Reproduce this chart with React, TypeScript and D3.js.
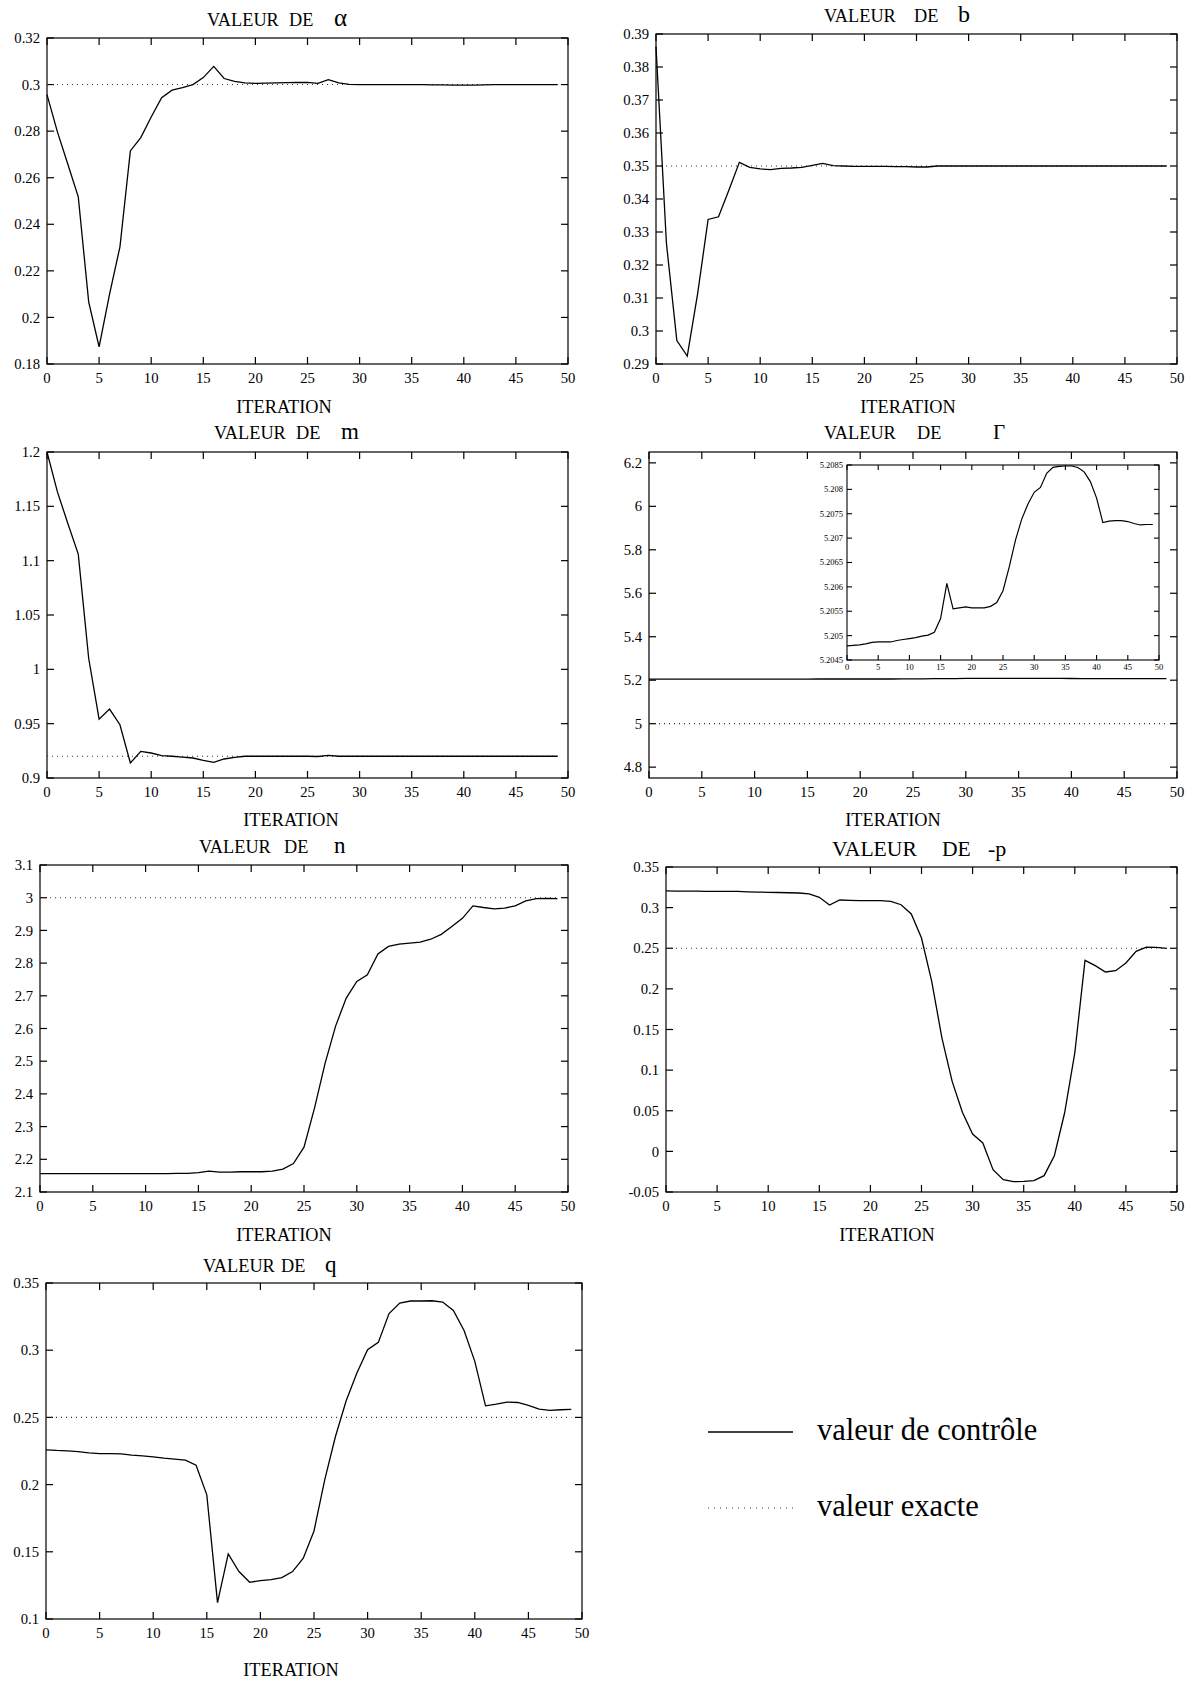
import React, { useEffect, useRef } from 'react';
import * as d3 from 'd3';

// iteration ticks shared by every panel
const iterationTicks = [0, 5, 10, 15, 20, 25, 30, 35, 40, 45, 50];

// control values, one per iteration 0..49
const alphaValues = [
  0.2957, 0.2797, 0.2658, 0.2518, 0.2067, 0.1874, 0.2099, 0.2303, 0.2715, 0.2772,
  0.2861, 0.2944, 0.2976, 0.2987, 0.3000, 0.3030, 0.3078, 0.3026, 0.3014, 0.3007,
  0.3005, 0.3006, 0.3007, 0.3008, 0.3009, 0.3009, 0.3005, 0.3021, 0.3007, 0.3001,
  0.3000, 0.3000, 0.3000, 0.3000, 0.3000, 0.3000, 0.3000, 0.2999, 0.2999, 0.2998,
  0.2998, 0.2998, 0.2999, 0.3000, 0.3000, 0.3000, 0.3000, 0.3000, 0.3000, 0.3000,
];
const bValues = [
  0.3862, 0.3266, 0.2971, 0.2924, 0.3114, 0.3338, 0.3346, 0.3427, 0.3511, 0.3496,
  0.3491, 0.3489, 0.3493, 0.3494, 0.3496, 0.3502, 0.3508, 0.3501, 0.3500, 0.3499,
  0.3499, 0.3499, 0.3499, 0.3498, 0.3498, 0.3497, 0.3497, 0.3500, 0.3500, 0.3500,
  0.3500, 0.3500, 0.3500, 0.3500, 0.3500, 0.3500, 0.3500, 0.3500, 0.3500, 0.3500,
  0.3500, 0.3500, 0.3500, 0.3500, 0.3500, 0.3500, 0.3500, 0.3500, 0.3500, 0.3500,
];
const mValues = [
  1.2000, 1.1633, 1.1342, 1.1060, 1.0102, 0.9542, 0.9634, 0.9490, 0.9138, 0.9245,
  0.9230, 0.9205, 0.9200, 0.9193, 0.9184, 0.9162, 0.9144, 0.9175, 0.9190, 0.9200,
  0.9200, 0.9200, 0.9200, 0.9200, 0.9200, 0.9200, 0.9198, 0.9208, 0.9200, 0.9200,
  0.9200, 0.9200, 0.9200, 0.9200, 0.9200, 0.9200, 0.9200, 0.9200, 0.9200, 0.9200,
  0.9200, 0.9200, 0.9200, 0.9200, 0.9200, 0.9200, 0.9200, 0.9200, 0.9200, 0.9200,
];
const gammaValues = [
  5.20479, 5.20480, 5.20481, 5.20483, 5.20486, 5.20487, 5.20487, 5.20487, 5.20490, 5.20492,
  5.20494, 5.20496, 5.20499, 5.20501, 5.20507, 5.20535, 5.20607, 5.20555, 5.20557, 5.20559,
  5.20557, 5.20557, 5.20557, 5.20560, 5.20568, 5.20592, 5.20641, 5.20696, 5.20739, 5.20770,
  5.20794, 5.20804, 5.20833, 5.20845, 5.20847, 5.20848, 5.20848, 5.20845, 5.20836, 5.20816,
  5.20782, 5.20732, 5.20735, 5.20736, 5.20736, 5.20734, 5.20730, 5.20727, 5.20728, 5.20728,
];
const nValues = [
  2.156, 2.156, 2.156, 2.156, 2.156, 2.156, 2.156, 2.156, 2.156, 2.156,
  2.156, 2.156, 2.156, 2.157, 2.157, 2.159, 2.164, 2.161, 2.161, 2.162,
  2.162, 2.162, 2.164, 2.170, 2.187, 2.237, 2.357, 2.494, 2.608, 2.693,
  2.744, 2.764, 2.828, 2.851, 2.858, 2.861, 2.864, 2.873, 2.888, 2.912,
  2.937, 2.975, 2.970, 2.966, 2.968, 2.975, 2.990, 2.997, 2.998, 2.997,
];
const pValues = [
  0.3205, 0.3204, 0.3203, 0.3202, 0.3201, 0.3200, 0.3200, 0.3199, 0.3195, 0.3192,
  0.3188, 0.3186, 0.3183, 0.3180, 0.3168, 0.3127, 0.3032, 0.3094, 0.3090, 0.3086,
  0.3086, 0.3086, 0.3077, 0.3036, 0.2922, 0.2626, 0.2093, 0.1395, 0.0862, 0.0481,
  0.0214, 0.0103, -0.0225, -0.0348, -0.0373, -0.0369, -0.0361, -0.0299, -0.0053, 0.0472,
  0.1211, 0.2351, 0.2286, 0.2208, 0.2224, 0.2318, 0.2462, 0.2515, 0.2511, 0.2499,
];
const qValues = [
  0.2259, 0.2254, 0.2251, 0.2246, 0.2236, 0.2231, 0.2231, 0.2229, 0.2219, 0.2214,
  0.2207, 0.2197, 0.2189, 0.2182, 0.2144, 0.1924, 0.1122, 0.1484, 0.1353, 0.1273,
  0.1286, 0.1293, 0.1308, 0.1353, 0.1452, 0.1655, 0.2035, 0.2358, 0.2624, 0.2830,
  0.3003, 0.3058, 0.3272, 0.3351, 0.3366, 0.3366, 0.3368, 0.3358, 0.3296, 0.3147,
  0.2917, 0.2586, 0.2599, 0.2614, 0.2611, 0.2589, 0.2562, 0.2552, 0.2557, 0.2559,
];

// exact parameter values (dotted reference lines)
const exactValues = { alpha: 0.3, b: 0.35, m: 0.92, gamma: 5.0, n: 3.0, p: 0.25, q: 0.25 };

// y tick labels
const alphaTicks = [0.18, 0.2, 0.22, 0.24, 0.26, 0.28, 0.3, 0.32];
const bTicks = [0.29, 0.3, 0.31, 0.32, 0.33, 0.34, 0.35, 0.36, 0.37, 0.38, 0.39];
const mTicks = [0.9, 0.95, 1, 1.05, 1.1, 1.15, 1.2];
const gammaTicks = [4.8, 5, 5.2, 5.4, 5.6, 5.8, 6, 6.2];
const gammaInsetTicks = [5.2045, 5.205, 5.2055, 5.206, 5.2065, 5.207, 5.2075, 5.208, 5.2085];
const nTicks = [2.1, 2.2, 2.3, 2.4, 2.5, 2.6, 2.7, 2.8, 2.9, 3, 3.1];
const pTicks = [-0.05, 0, 0.05, 0.1, 0.15, 0.2, 0.25, 0.3, 0.35];
const qTicks = [0.1, 0.15, 0.2, 0.25, 0.3, 0.35];

const legendLabels = ['valeur de contrôle', 'valeur exacte'];

const FONT = '"Liberation Serif", "Times New Roman", serif';
const fmt = (d) => String(+d.toFixed(4));

function drawFrame(g, x, y, xTicks, yTicks, opts) {
  const [x0, x1] = x.range();
  const [y0, y1] = y.range(); // y0 bottom, y1 top
  const tl = opts.tick;

  g.append('rect')
    .attr('x', x0).attr('y', y1)
    .attr('width', x1 - x0).attr('height', y0 - y1)
    .attr('fill', 'none').attr('stroke', '#000').attr('stroke-width', opts.frame);

  xTicks.forEach((t) => {
    const px = x(t);
    g.append('line').attr('x1', px).attr('x2', px).attr('y1', y0).attr('y2', y0 - tl)
      .attr('stroke', '#000').attr('stroke-width', opts.frame);
    g.append('line').attr('x1', px).attr('x2', px).attr('y1', y1).attr('y2', y1 + tl)
      .attr('stroke', '#000').attr('stroke-width', opts.frame);
    g.append('text').attr('x', px).attr('y', y0 + opts.xLabelDy)
      .attr('text-anchor', 'middle').attr('font-size', opts.font).attr('font-family', FONT)
      .text(fmt(t));
  });

  yTicks.forEach((t) => {
    const py = y(t);
    g.append('line').attr('x1', x0).attr('x2', x0 + tl).attr('y1', py).attr('y2', py)
      .attr('stroke', '#000').attr('stroke-width', opts.frame);
    g.append('line').attr('x1', x1).attr('x2', x1 - tl).attr('y1', py).attr('y2', py)
      .attr('stroke', '#000').attr('stroke-width', opts.frame);
    g.append('text').attr('x', x0 - opts.yLabelGap).attr('y', py).attr('dy', '0.35em')
      .attr('text-anchor', 'end').attr('font-size', opts.font).attr('font-family', FONT)
      .text(fmt(t));
  });
}

function drawPanel(svg, p) {
  const g = svg.append('g');
  const x = d3.scaleLinear().domain([0, 50]).range([p.left, p.right]);
  const y = d3.scaleLinear().domain(p.domain).range([p.bottom, p.top]);

  drawFrame(g, x, y, iterationTicks, p.ticks, { tick: 7, frame: 1.2, font: 14.7, xLabelDy: 19, yLabelGap: 7 });

  // exact value, dotted
  g.append('line')
    .attr('x1', x(0)).attr('x2', x(49))
    .attr('y1', y(p.exact)).attr('y2', y(p.exact))
    .attr('stroke', '#333').attr('stroke-width', 1.1).attr('stroke-dasharray', '1,4');

  const line = d3.line().x((d, i) => x(i)).y((d) => y(d));
  g.append('path').datum(p.values).attr('d', line)
    .attr('fill', 'none').attr('stroke', '#000').attr('stroke-width', 1.3);

  // title pieces
  p.title.forEach((t) => {
    g.append('text').attr('x', t.x).attr('y', p.titleY)
      .attr('font-size', t.size).attr('font-family', FONT).text(t.text);
  });

  g.append('text').attr('x', p.iterX).attr('y', p.iterY)
    .attr('text-anchor', 'middle').attr('font-size', 18.3).attr('font-family', FONT)
    .text('ITERATION');

  return g;
}

const App = () => {
  const svgRef = useRef(null);

  useEffect(() => {
    if (!svgRef.current) return;
    const svg = d3.select(svgRef.current);
    svg.selectAll('*').remove();

    drawPanel(svg, {
      left: 47, right: 568, top: 38, bottom: 364,
      domain: [0.18, 0.32], ticks: alphaTicks, values: alphaValues, exact: exactValues.alpha,
      titleY: 26,
      title: [{ x: 207, text: 'VALEUR', size: 18.3 }, { x: 289, text: 'DE', size: 18.3 }, { x: 334, text: 'α', size: 25 }],
      iterX: 284, iterY: 413,
    });

    drawPanel(svg, {
      left: 656, right: 1177, top: 34, bottom: 364,
      domain: [0.29, 0.39], ticks: bTicks, values: bValues, exact: exactValues.b,
      titleY: 22,
      title: [{ x: 824, text: 'VALEUR', size: 18.3 }, { x: 914, text: 'DE', size: 18.3 }, { x: 958, text: 'b', size: 24 }],
      iterX: 908, iterY: 413,
    });

    drawPanel(svg, {
      left: 47, right: 568, top: 452, bottom: 778,
      domain: [0.9, 1.2], ticks: mTicks, values: mValues, exact: exactValues.m,
      titleY: 439,
      title: [{ x: 214, text: 'VALEUR', size: 18.3 }, { x: 296, text: 'DE', size: 18.3 }, { x: 341, text: 'm', size: 23 }],
      iterX: 291, iterY: 826,
    });

    drawPanel(svg, {
      left: 649, right: 1177, top: 452, bottom: 778,
      domain: [4.75, 6.25], ticks: gammaTicks, values: gammaValues, exact: exactValues.gamma,
      titleY: 439,
      title: [{ x: 824, text: 'VALEUR', size: 18.3 }, { x: 917, text: 'DE', size: 18.3 }, { x: 993, text: 'Γ', size: 21 }],
      iterX: 893, iterY: 826,
    });

    // inset zoom on Γ
    {
      const g = svg.append('g');
      const xi = d3.scaleLinear().domain([0, 50]).range([847, 1159]);
      const yi = d3.scaleLinear().domain([5.2045, 5.2085]).range([660, 465]);
      g.append('rect').attr('x', 847).attr('y', 465).attr('width', 312).attr('height', 195).attr('fill', '#fff');
      drawFrame(g, xi, yi, iterationTicks, gammaInsetTicks, { tick: 5, frame: 1.1, font: 8.5, xLabelDy: 10, yLabelGap: 4 });
      const line = d3.line().x((d, i) => xi(i)).y((d) => yi(d));
      g.append('path').datum(gammaValues).attr('d', line)
        .attr('fill', 'none').attr('stroke', '#000').attr('stroke-width', 1.2);
    }

    drawPanel(svg, {
      left: 40, right: 568, top: 865, bottom: 1192,
      domain: [2.1, 3.1], ticks: nTicks, values: nValues, exact: exactValues.n,
      titleY: 853,
      title: [{ x: 199, text: 'VALEUR', size: 18.3 }, { x: 284, text: 'DE', size: 18.3 }, { x: 334, text: 'n', size: 23 }],
      iterX: 284, iterY: 1241,
    });

    drawPanel(svg, {
      left: 666, right: 1177, top: 867, bottom: 1192,
      domain: [-0.05, 0.35], ticks: pTicks, values: pValues, exact: exactValues.p,
      titleY: 856,
      title: [{ x: 832, text: 'VALEUR', size: 21.6 }, { x: 942, text: 'DE', size: 21.6 }, { x: 988, text: '-p', size: 22 }],
      iterX: 887, iterY: 1241,
    });

    drawPanel(svg, {
      left: 46, right: 582, top: 1283, bottom: 1619,
      domain: [0.1, 0.35], ticks: qTicks, values: qValues, exact: exactValues.q,
      titleY: 1272,
      title: [{ x: 203, text: 'VALEUR', size: 18.3 }, { x: 281, text: 'DE', size: 18.3 }, { x: 325, text: 'q', size: 23 }],
      iterX: 291, iterY: 1676,
    });

    // legend
    const leg = svg.append('g');
    leg.append('line').attr('x1', 708).attr('x2', 793).attr('y1', 1432).attr('y2', 1432)
      .attr('stroke', '#000').attr('stroke-width', 1.3);
    leg.append('text').attr('x', 817).attr('y', 1440).attr('font-size', 30.5).attr('font-family', FONT)
      .text(legendLabels[0]);
    leg.append('line').attr('x1', 708).attr('x2', 793).attr('y1', 1508).attr('y2', 1508)
      .attr('stroke', '#333').attr('stroke-width', 1.1).attr('stroke-dasharray', '1,5');
    leg.append('text').attr('x', 817).attr('y', 1516).attr('font-size', 30.5).attr('font-family', FONT)
      .text(legendLabels[1]);
  }, []);

  return (
    <svg
      ref={svgRef}
      width={1191}
      height={1681}
      style={{ position: 'absolute', left: 0, top: 0, background: '#fff' }}
    />
  );
};

export default App;
